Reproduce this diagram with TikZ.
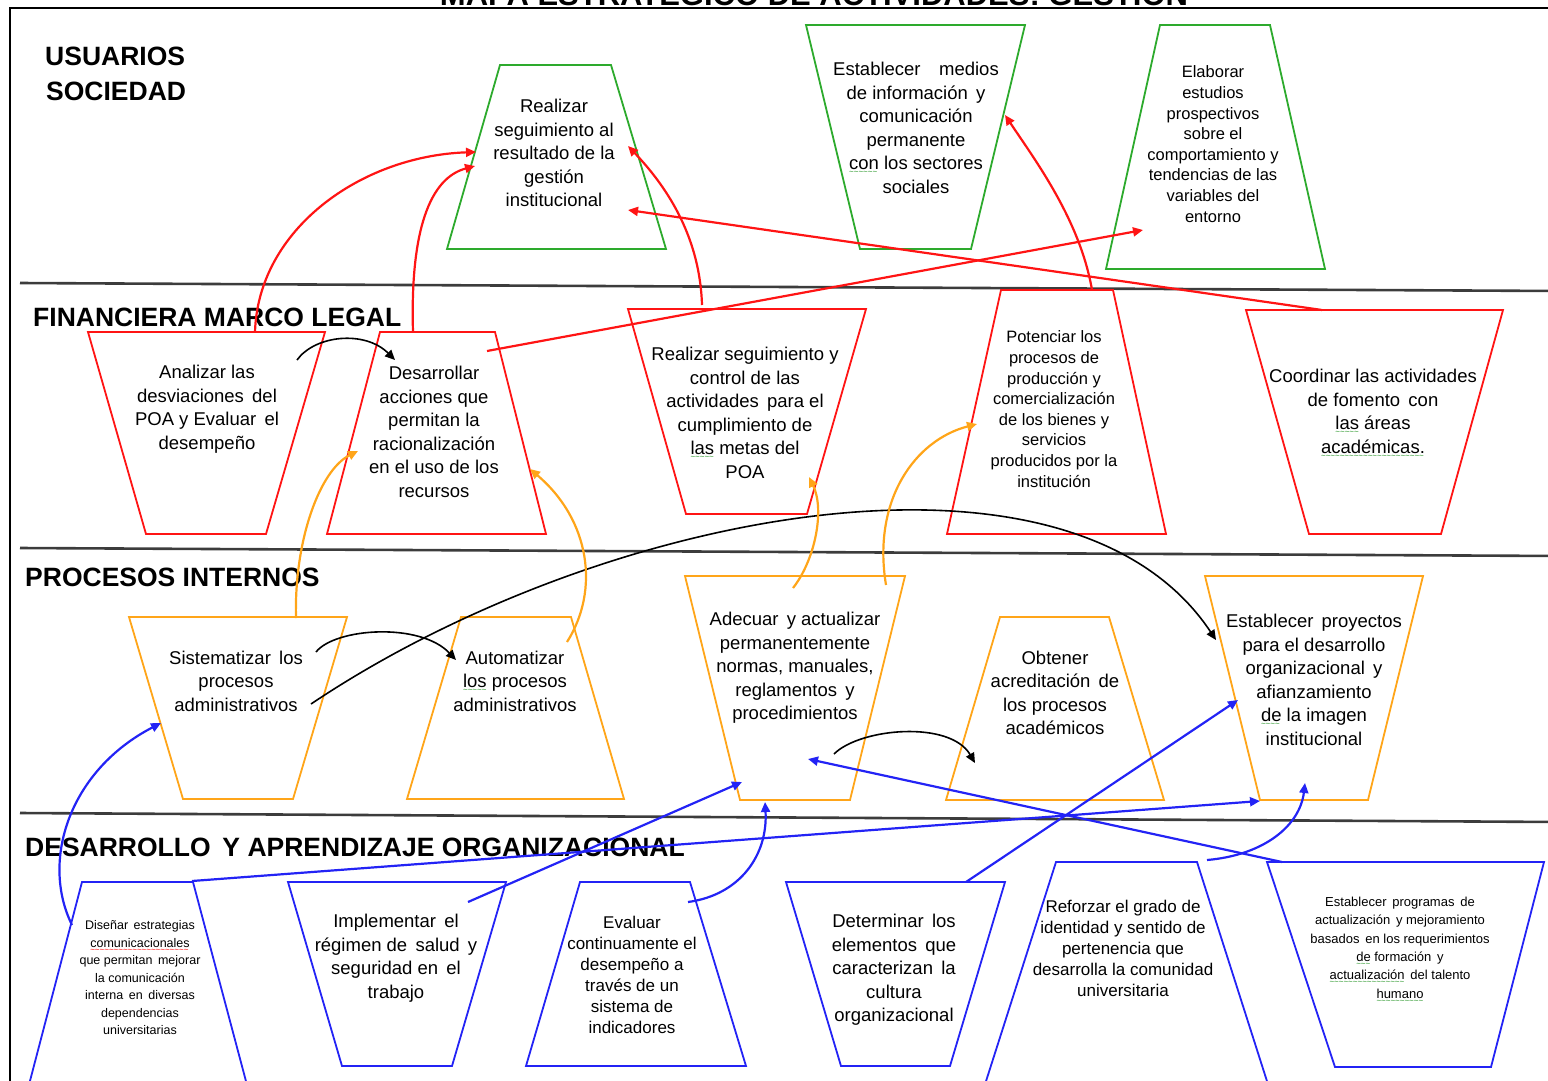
\documentclass[tikz,border=0pt]{standalone}
\usepackage{fontspec}
\setmainfont{Liberation Sans}
\usetikzlibrary{arrows.meta}

\definecolor{tgreen}{RGB}{45,170,45}
\definecolor{tred}{RGB}{255,20,20}
\definecolor{torange}{RGB}{255,165,25}
\definecolor{tblue}{RGB}{35,35,245}
\definecolor{squig}{RGB}{40,150,40}
\definecolor{divgray}{RGB}{60,60,60}

% wavy spell-check style underlines
\newcommand\wavyc[2]{\setbox0\hbox{#2}\rlap{\color{#1}\raisebox{-5pt}{\fontsize{8}{8}\selectfont\leaders\hbox{\char`\~}\hskip\wd0}}\box0\relax}
\newcommand\wavyg[1]{\wavyc{squig}{#1}}
\newcommand\wavyr[1]{\wavyc{red}{#1}}

\tikzset{
  sec/.style={anchor=base west, inner sep=0, font=\fontsize{26.5}{30}\selectfont\bfseries},
  tx/.style={align=center, inner sep=0, font=\fontsize{18.5}{23.5}\selectfont},
  txm/.style={align=center, inner sep=0, font=\fontsize{17}{21}\selectfont},
  txs/.style={align=center, inner sep=0, font=\fontsize{16.5}{20.6}\selectfont},
  txt/.style={align=center, inner sep=0, font=\fontsize{12.5}{17.5}\selectfont},
  txu/.style={align=center, inner sep=0, font=\fontsize{13}{18.4}\selectfont},
  tg/.style={draw=tgreen, line width=1.8},
  tr/.style={draw=tred, line width=1.8},
  to/.style={draw=torange, line width=1.8},
  tb/.style={draw=tblue, line width=1.8},
  divider/.style={draw=divgray, line width=2.6},
  tip/.style={-{Triangle[length=10pt,width=9pt]}},
  redarr/.style={tip, draw=tred, line width=2.2},
  orarr/.style={tip, draw=torange, line width=2.2},
  bluarr/.style={tip, draw=tblue, line width=2.2},
  blkarr/.style={tip, draw=black, line width=1.6},
}

\begin{document}
\begin{tikzpicture}[x=1pt,y=-1pt]
\useasboundingbox (0,0) rectangle (1548,1080);
\clip (0,0) rectangle (1548,1080);

% title and frame
\node[anchor=base, inner sep=0, font=\fontsize{31}{34}\selectfont\bfseries] (title) at (814,5)
  {MAPA ESTRATEGICO DE ACTIVIDADES: GESTION};
\draw[line width=2] (10,1090) -- (10,8) -- (1560,8);

% perspective dividers
\draw[divider] (20,283) -- (1560,291);
\draw[divider] (20,548) -- (1560,556);
\draw[divider] (20,813) -- (1560,822);

% perspective labels
\node[sec] (lab1a) at (45,65) {USUARIOS};
\node[sec] (lab1b) at (46,100) {SOCIEDAD};
\node[sec] (lab2) at (33,326) {FINANCIERA MARCO LEGAL};
\node[sec] (lab3) at (25,586) {PROCESOS INTERNOS};
\node[sec] (lab4) at (25,856) {DESARROLLO\, Y APRENDIZAJE ORGANIZACIONAL};

% users / society
\draw[tg] (500,65) -- (611,65) -- (666,249) -- (447,249) -- cycle;
\draw[tg] (806,25) -- (1025,25) -- (971,249) -- (860,249) -- cycle;
\draw[tg] (1160,25) -- (1270,25) -- (1325,269) -- (1106,269) -- cycle;
% financial / legal
\draw[tr] (88,332) -- (325,332) -- (266,534) -- (146,534) -- cycle;
\draw[tr] (380,332) -- (495,332) -- (546,534) -- (327,534) -- cycle;
\draw[tr] (628,309) -- (866,309) -- (807,514) -- (686,514) -- cycle;
\draw[tr] (1001,290) -- (1113,290) -- (1166,534) -- (947,534) -- cycle;
\draw[tr] (1246,310) -- (1503,310) -- (1441,534) -- (1309,534) -- cycle;
% internal processes
\draw[to] (129,617) -- (347,617) -- (293,799) -- (183,799) -- cycle;
\draw[to] (461,617) -- (571,617) -- (624,799) -- (407,799) -- cycle;
\draw[to] (685,576) -- (905,576) -- (850,800) -- (740,800) -- cycle;
\draw[to] (1000,617) -- (1109,617) -- (1164,800) -- (946,800) -- cycle;
\draw[to] (1205,576) -- (1423,576) -- (1368,800) -- (1260,800) -- cycle;
% learning and growth
\draw[tb] (82,882) -- (193,882) -- (251,1100) -- (25,1100) -- cycle;
\draw[tb] (288,882) -- (506,882) -- (452,1066) -- (342,1066) -- cycle;
\draw[tb] (580,882) -- (690,882) -- (746,1066) -- (526,1066) -- cycle;
\draw[tb] (786,882) -- (1005,882) -- (950,1066) -- (841,1066) -- cycle;
\draw[tb] (1056,862) -- (1197,862) -- (1273,1100) -- (980,1100) -- cycle;
\draw[tb] (1267,862) -- (1544,862) -- (1491,1067) -- (1335,1067) -- cycle;

% objective texts
\node[tx] (g1) at (554,153) {Realizar\\seguimiento al\\resultado de la\\gestión\\institucional};
\node[tx] (g2) at (916,128) {Establecer\quad medios\\de información\, y\\comunicación\\permanente\\\wavyg{con} los sectores\\sociales};
\node[txs] (g3) at (1213,144) {Elaborar\\estudios\\prospectivos\\sobre el\\comportamiento y\\tendencias de las\\variables del\\entorno};

\node[tx] (r1) at (207,409) {Analizar las\\desviaciones\, del\\POA y Evaluar\, el\\desempeño};
\node[tx] (r2) at (434,432) {Desarrollar\\acciones que\\permitan la\\racionalización\\en el uso de los\\recursos};
\node[tx] (r3) at (745,413) {Realizar seguimiento y\\control de las\\actividades\, para el\\cumplimiento de\\\wavyg{las} metas del\\POA};
\node[txs] (r4) at (1054,409) {Potenciar los\\procesos de\\producción y\\comercialización\\de los bienes y\\servicios\\producidos por la\\institución};
\node[tx] (r5) at (1373,414) {Coordinar las actividades\\de fomento\, con\\\wavyg{las} áreas\\\wavyg{académicas.}};

\node[tx] (o1) at (236,681) {Sistematizar\, los\\procesos\\administrativos};
\node[tx] (o2) at (515,681) {Automatizar\\\wavyg{los} procesos\\administrativos};
\node[tx] (o3) at (795,668) {Adecuar\, y actualizar\\permanentemente\\normas, manuales,\\reglamentos\, y\\procedimientos};
\node[tx] (o4) at (1055,693) {Obtener\\acreditación\, de\\los procesos\\académicos};
\node[tx] (o5) at (1314,680) {Establecer\, proyectos\\para el desarrollo\\organizacional\, y\\afianzamiento\\\wavyg{de} la imagen\\institucional};

\node[txt] (b1) at (140,978) {Diseñar\, estrategias\\\wavyr{comunicacionales}\\que permitan\, mejorar\\la comunicación\\interna\, en\, diversas\\dependencias\\universitarias};
\node[tx] (b2) at (396,958) {Implementar\, el\\régimen de\, salud\, y\\seguridad en\, el\\trabajo};
\node[txm] (b3) at (632,975) {Evaluar\\continuamente el\\desempeño a\\través de un\\sistema de\\indicadores};
\node[tx] (b4) at (894,970) {Determinar\, los\\elementos\, que\\caracterizan\, la\\cultura\\organizacional};
\node[txm] (b5) at (1123,948) {Reforzar el grado de\\identidad y sentido de\\pertenencia que\\desarrolla la comunidad\\universitaria};
\node[txu] (b6) at (1400,950) {Establecer\, programas\, de\\actualización\, y mejoramiento\\basados\, en los requerimientos\\\wavyg{de} formación\, y\\\wavyg{actualización}\, del talento\\\wavyg{humano}};

% connector end points
\coordinate (c1s) at (255,332);  \coordinate (c1e) at (476,152);
\coordinate (c2s) at (413,332);  \coordinate (c2e) at (475,166);
\coordinate (c3s) at (702,305);  \coordinate (c3e) at (628,146);
\coordinate (c4s) at (1322,310); \coordinate (c4e) at (628,210);
\coordinate (c5s) at (487,351);  \coordinate (c5e) at (1143,230);
\coordinate (c6s) at (1092,290); \coordinate (c6e) at (1005,115);
\coordinate (c7s) at (297,360);  \coordinate (c7e) at (395,360);
\coordinate (c8s) at (316,652);  \coordinate (c8e) at (456,660);
\coordinate (c9s) at (311,704);  \coordinate (c9e) at (1216,640);
\coordinate (c10s) at (834,754); \coordinate (c10e) at (975,763);
\coordinate (c11s) at (296,618); \coordinate (c11e) at (358,451);
\coordinate (c12s) at (567,642); \coordinate (c12e) at (530,469);
\coordinate (c13s) at (793,588); \coordinate (c13e) at (809,477);
\coordinate (c14s) at (886,585); \coordinate (c14e) at (977,424);
\coordinate (c15s) at (72,925);  \coordinate (c15e) at (161,723);
\coordinate (c16s) at (192,881); \coordinate (c16e) at (1260,801);
\coordinate (c17s) at (468,902); \coordinate (c17e) at (742,782);
\coordinate (c18s) at (688,902); \coordinate (c18e) at (765,802);
\coordinate (c19s) at (966,882); \coordinate (c19e) at (1238,700);
\coordinate (c20s) at (1282,862);\coordinate (c20e) at (808,759);
\coordinate (c21s) at (1207,860);\coordinate (c21e) at (1305,783);

% financial -> users
\draw[redarr] (c1s) .. controls (258,230) and (360,156) .. (c1e);
\draw[redarr] (c2s) .. controls (410,230) and (430,178) .. (c2e);
\draw[redarr] (c3s) .. controls (700,240) and (670,190) .. (c3e);
\draw[redarr] (c4s) -- (c4e);
\draw[redarr] (c5s) -- (c5e);
\draw[redarr] (c6s) .. controls (1080,220) and (1035,160) .. (c6e);
% links inside rows
\draw[blkarr] (c7s) .. controls (315,335) and (365,330) .. (c7e);
\draw[blkarr] (c8s) .. controls (335,628) and (420,622) .. (c8e);
\draw[blkarr] (c9s) .. controls (600,510) and (1070,420) .. (c9e);
\draw[blkarr] (c10s) .. controls (860,728) and (950,720) .. (c10e);
% internal -> financial
\draw[orarr] (c11s) .. controls (294,540) and (320,470) .. (c11e);
\draw[orarr] (c12s) .. controls (600,590) and (590,520) .. (c12e);
\draw[orarr] (c13s) .. controls (815,560) and (825,510) .. (c13e);
\draw[orarr] (c14s) .. controls (872,500) and (915,440) .. (c14e);
% learning -> internal
\draw[bluarr] (c15s) .. controls (40,860) and (70,770) .. (c15e);
\draw[bluarr] (c16s) -- (c16e);
\draw[bluarr] (c17s) -- (c17e);
\draw[bluarr] (c18s) .. controls (740,895) and (768,855) .. (c18e);
\draw[bluarr] (c19s) -- (c19e);
\draw[bluarr] (c20s) -- (c20e);
\draw[bluarr] (c21s) .. controls (1265,855) and (1300,825) .. (c21e);
\end{tikzpicture}
\end{document}
